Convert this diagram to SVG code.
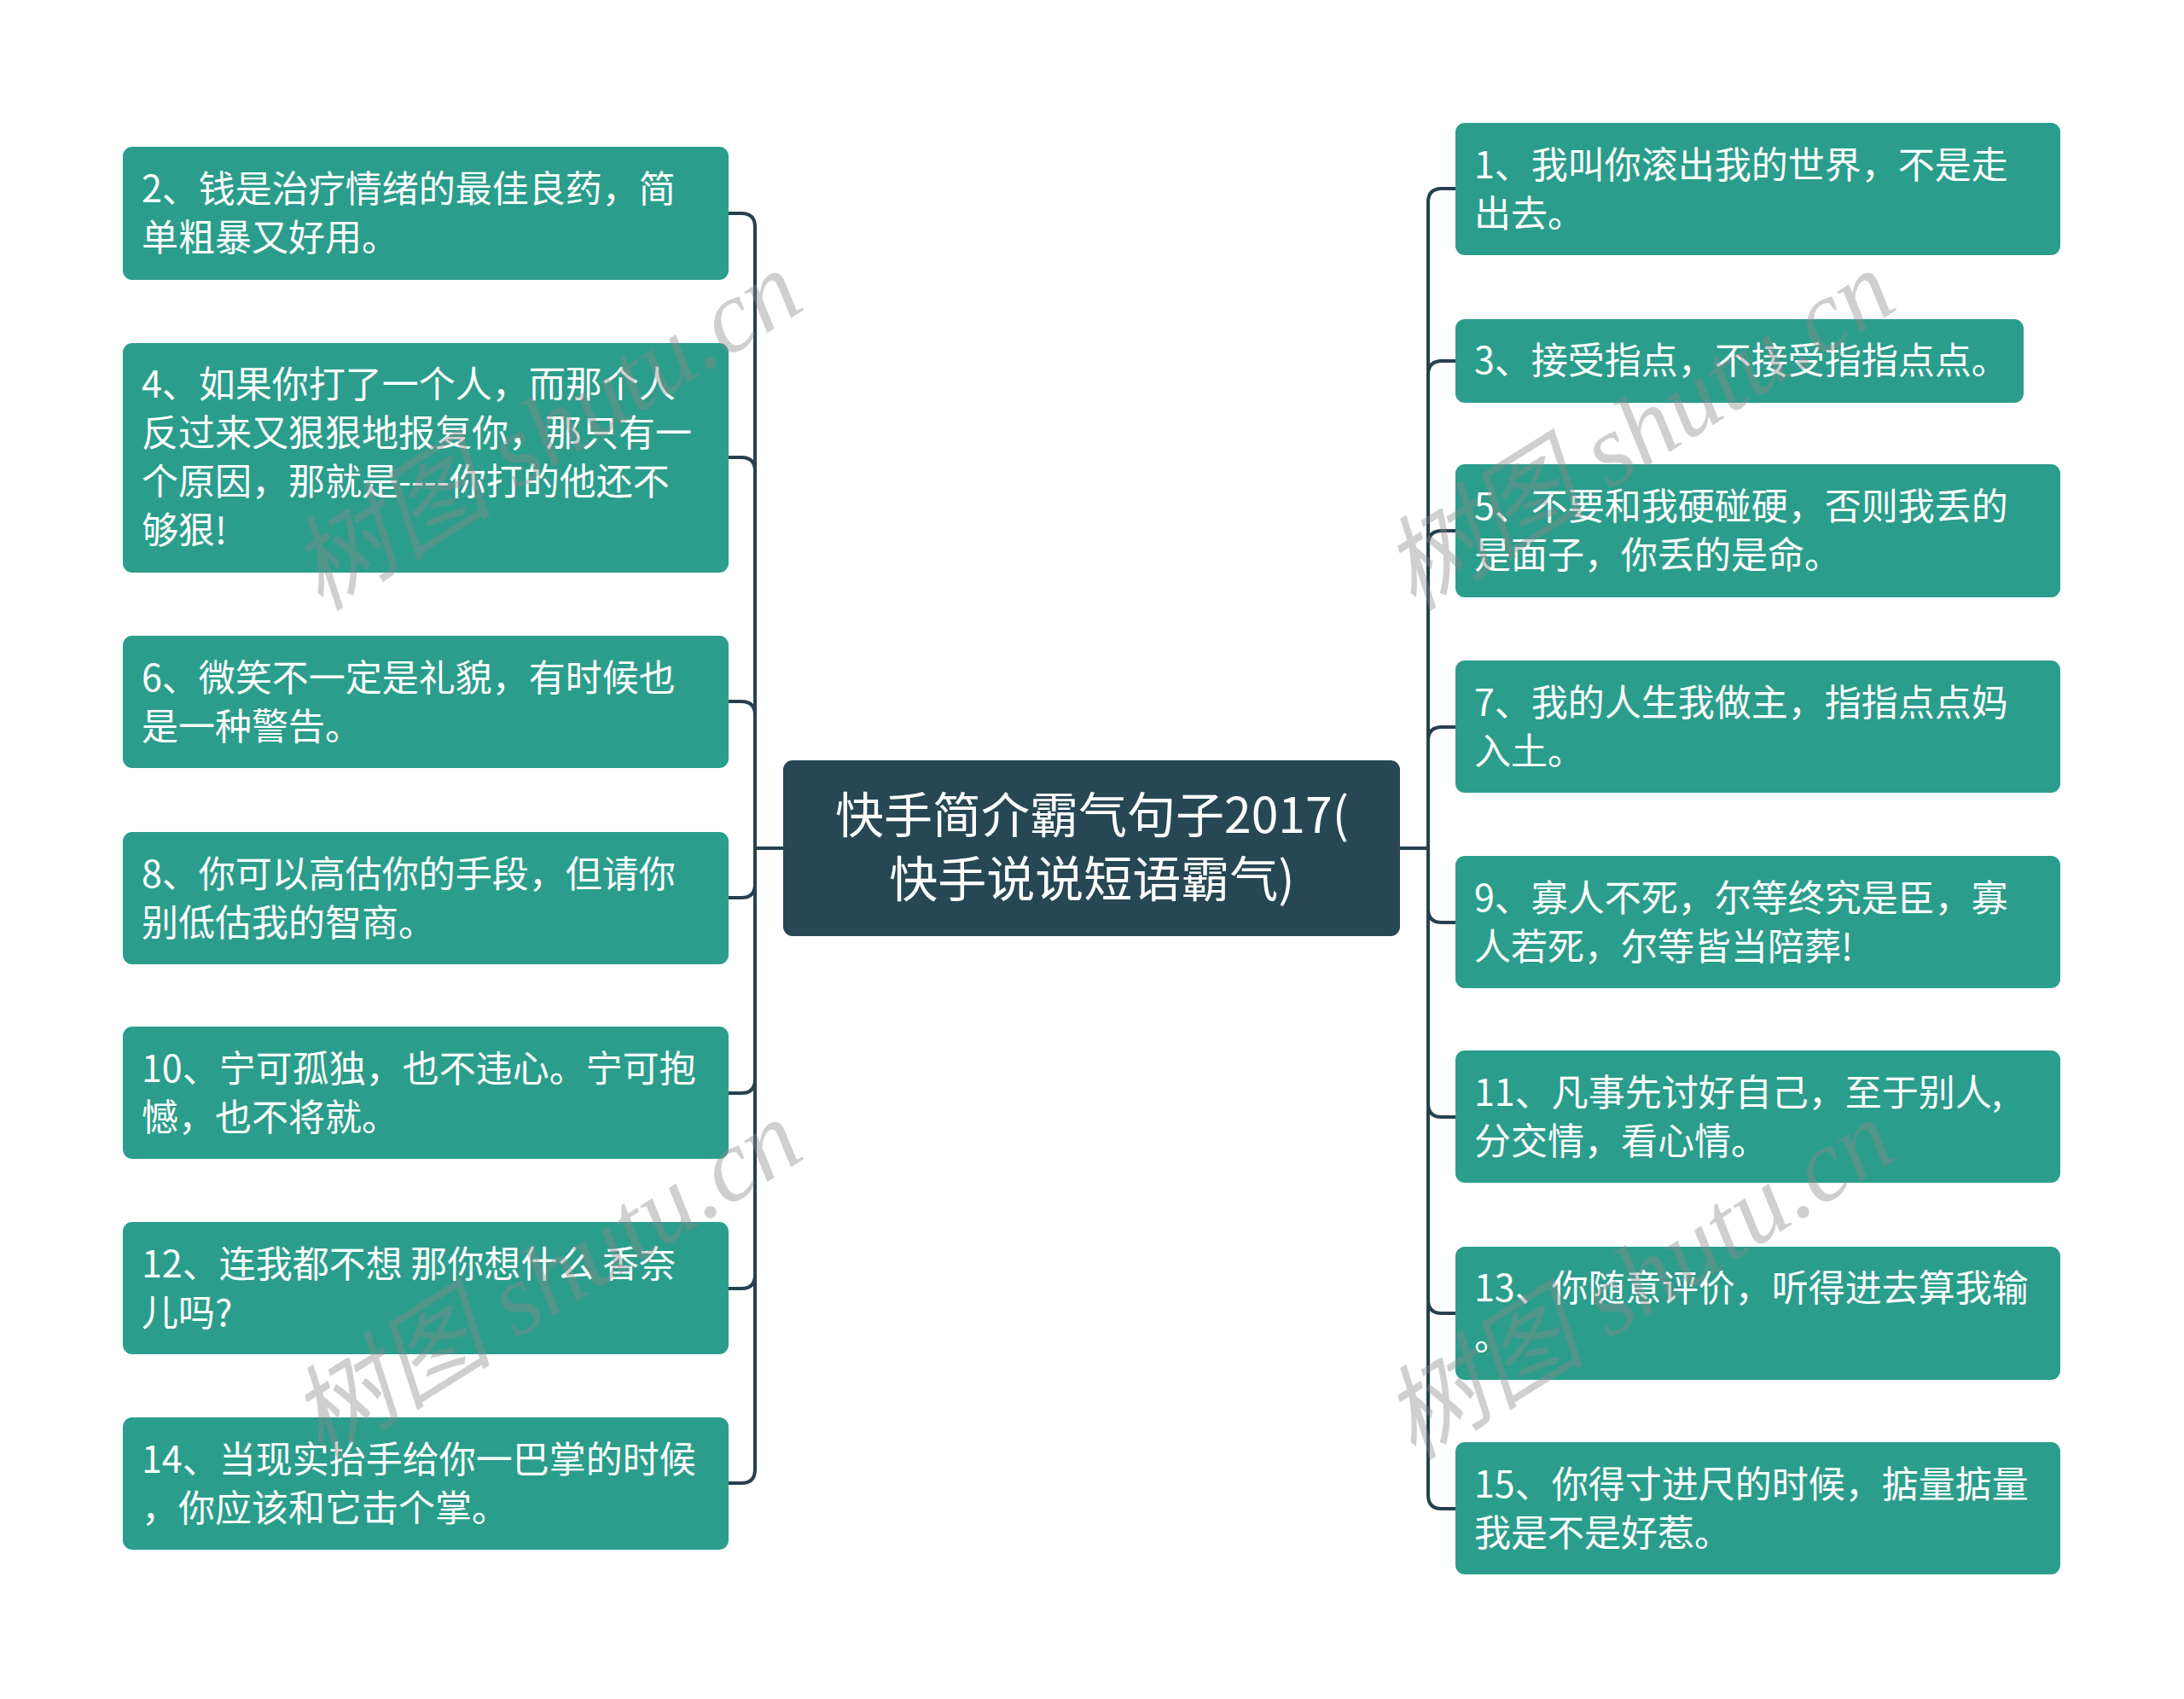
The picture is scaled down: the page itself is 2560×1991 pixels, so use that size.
<svg xmlns="http://www.w3.org/2000/svg" width="2560" height="1991" viewBox="0 0 2560 1991">
<style>
.n{fill:#2b9d8c}
.c{fill:#274755}
.t{font-family:"Noto Sans CJK SC","Liberation Sans",sans-serif;font-size:43px;fill:#ffffff}
.ct{font-family:"Noto Sans CJK SC","Liberation Sans",sans-serif;font-size:57px;fill:#ffffff;text-anchor:middle}
.l{fill:none;stroke:#27404e;stroke-width:4}
.w{font-family:"Liberation Serif","Noto Sans CJK SC",serif;font-style:italic;font-size:120px;fill:#8a8a8a;opacity:0.4;text-anchor:middle}
</style>
<rect x="0" y="0" width="2560" height="1991" fill="#ffffff"/>
<g id="connectors">
<path class="l" d="M918 994H885V266Q885 250 869 250H854"/>
<path class="l" d="M918 994H885V552Q885 536 869 536H854"/>
<path class="l" d="M918 994H885V838Q885 822 869 822H854"/>
<path class="l" d="M918 994H885V1036Q885 1052 869 1052H854"/>
<path class="l" d="M918 994H885V1265Q885 1281 869 1281H854"/>
<path class="l" d="M918 994H885V1494Q885 1510 869 1510H854"/>
<path class="l" d="M918 994H885V1722Q885 1738 869 1738H854"/>
<path class="l" d="M1641 994H1674V237Q1674 221 1690 221H1706"/>
<path class="l" d="M1641 994H1674V439Q1674 423 1690 423H1706"/>
<path class="l" d="M1641 994H1674V638Q1674 622 1690 622H1706"/>
<path class="l" d="M1641 994H1674V868Q1674 852 1690 852H1706"/>
<path class="l" d="M1641 994H1674V1065Q1674 1081 1690 1081H1706"/>
<path class="l" d="M1641 994H1674V1293Q1674 1309 1690 1309H1706"/>
<path class="l" d="M1641 994H1674V1523Q1674 1539 1690 1539H1706"/>
<path class="l" d="M1641 994H1674V1752Q1674 1768 1690 1768H1706"/>
</g>
<g id="center">
<rect class="c" x="918" y="891" width="723" height="206" rx="11"/>
<text class="ct" x="1280" y="976">快手简介霸气句子2017(</text>
<text class="ct" x="1280" y="1051">快手说说短语霸气)</text>
</g>
<g id="node2">
<rect class="n" x="144" y="172" width="710" height="156" rx="11"/>
<text class="t" x="166" y="237">2、钱是治疗情绪的最佳良药，简</text>
<text class="t" x="166" y="294">单粗暴又好用。</text>
</g>
<g id="node4">
<rect class="n" x="144" y="402" width="710" height="269" rx="11"/>
<text class="t" x="166" y="466">4、如果你打了一个人，而那个人</text>
<text class="t" x="166" y="523">反过来又狠狠地报复你，那只有一</text>
<text class="t" x="166" y="580">个原因，那就是----你打的他还不</text>
<text class="t" x="166" y="637">够狠!</text>
</g>
<g id="node6">
<rect class="n" x="144" y="745" width="710" height="155" rx="11"/>
<text class="t" x="166" y="810">6、微笑不一定是礼貌，有时候也</text>
<text class="t" x="166" y="867">是一种警告。</text>
</g>
<g id="node8">
<rect class="n" x="144" y="975" width="710" height="155" rx="11"/>
<text class="t" x="166" y="1040">8、你可以高估你的手段，但请你</text>
<text class="t" x="166" y="1097">别低估我的智商。</text>
</g>
<g id="node10">
<rect class="n" x="144" y="1203" width="710" height="155" rx="11"/>
<text class="t" x="166" y="1268">10、宁可孤独，也不违心。宁可抱</text>
<text class="t" x="166" y="1325">憾，也不将就。</text>
</g>
<g id="node12">
<rect class="n" x="144" y="1432" width="710" height="155" rx="11"/>
<text class="t" x="166" y="1497">12、连我都不想 那你想什么 香奈</text>
<text class="t" x="166" y="1554">儿吗?</text>
</g>
<g id="node14">
<rect class="n" x="144" y="1661" width="710" height="155" rx="11"/>
<text class="t" x="166" y="1726">14、当现实抬手给你一巴掌的时候</text>
<text class="t" x="166" y="1783">，你应该和它击个掌。</text>
</g>
<g id="node1">
<rect class="n" x="1706" y="144" width="709" height="155" rx="11"/>
<text class="t" x="1728" y="209">1、我叫你滚出我的世界，不是走</text>
<text class="t" x="1728" y="266">出去。</text>
</g>
<g id="node3">
<rect class="n" x="1706" y="374" width="666" height="98" rx="11"/>
<text class="t" x="1728" y="438">3、接受指点，不接受指指点点。</text>
</g>
<g id="node5">
<rect class="n" x="1706" y="544" width="709" height="156" rx="11"/>
<text class="t" x="1728" y="609">5、不要和我硬碰硬，否则我丢的</text>
<text class="t" x="1728" y="666">是面子，你丢的是命。</text>
</g>
<g id="node7">
<rect class="n" x="1706" y="774" width="709" height="155" rx="11"/>
<text class="t" x="1728" y="839">7、我的人生我做主，指指点点妈</text>
<text class="t" x="1728" y="896">入土。</text>
</g>
<g id="node9">
<rect class="n" x="1706" y="1003" width="709" height="155" rx="11"/>
<text class="t" x="1728" y="1068">9、寡人不死，尔等终究是臣，寡</text>
<text class="t" x="1728" y="1125">人若死，尔等皆当陪葬!</text>
</g>
<g id="node11">
<rect class="n" x="1706" y="1231" width="709" height="155" rx="11"/>
<text class="t" x="1728" y="1296">11、凡事先讨好自己，至于别人,</text>
<text class="t" x="1728" y="1353">分交情，看心情。</text>
</g>
<g id="node13">
<rect class="n" x="1706" y="1461" width="709" height="156" rx="11"/>
<text class="t" x="1728" y="1525">13、你随意评价，听得进去算我输</text>
<text class="t" x="1728" y="1582">。</text>
</g>
<g id="node15">
<rect class="n" x="1706" y="1690" width="709" height="155" rx="11"/>
<text class="t" x="1728" y="1755">15、你得寸进尺的时候，掂量掂量</text>
<text class="t" x="1728" y="1812">我是不是好惹。</text>
</g>
<g id="watermarks">
<text class="w" transform="translate(640 505) rotate(-32)" y="40">树图 shutu.cn</text>
<text class="w" transform="translate(640 1500) rotate(-32)" y="40">树图 shutu.cn</text>
<text class="w" transform="translate(1921 505) rotate(-32)" y="40">树图 shutu.cn</text>
<text class="w" transform="translate(1921 1500) rotate(-32)" y="40">树图 shutu.cn</text>
</g>
</svg>
